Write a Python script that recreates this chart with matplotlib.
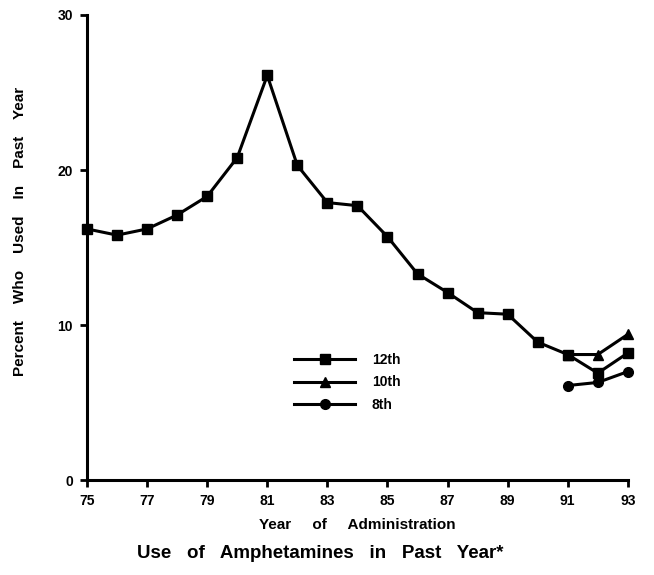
import matplotlib.pyplot as plt

plt.rcParams['font.family'] = ['Liberation Sans', 'DejaVu Sans']
plt.rcParams['font.weight'] = 'bold'

years_12 = [75, 76, 77, 78, 79, 80, 81, 82, 83, 84, 85, 86, 87, 88, 89, 90, 91, 92, 93]
grade_12 = [16.2, 15.8, 16.2, 17.1, 18.3, 20.8, 26.1, 20.3, 17.9, 17.7, 15.7, 13.3, 12.1, 10.8, 10.7, 8.9, 8.1, 6.9, 8.2]
years_lower = [91, 92, 93]
grade_10 = [8.1, 8.1, 9.4]
grade_8 = [6.1, 6.3, 7.0]
xtick_years = [75, 77, 79, 81, 83, 85, 87, 89, 91, 93]

fig = plt.figure(figsize=(6.54, 5.75), dpi=100)
ax = fig.add_axes([0.133, 0.165, 0.827, 0.809])

style = dict(color='black', lw=2.2, ms=7, clip_on=False)
ax.plot(years_12, grade_12, marker='s', label='12th', **style)
ax.plot(years_lower, grade_10, marker='^', label='10th', **style)
ax.plot(years_lower, grade_8, marker='o', label='8th', **style)

ax.set_xlim(75, 93)
ax.set_ylim(0, 30)
ax.set_xticks(xtick_years)
ax.set_yticks([0, 10, 20, 30])
ax.tick_params(direction='out', length=5, width=2, labelsize=10, pad=5)
for s in ['top', 'right']:
    ax.spines[s].set_visible(False)
for s in ['left', 'bottom']:
    ax.spines[s].set_linewidth(2.2)

ax.set_xlabel('Year     of     Administration', fontsize=11, fontweight='bold', labelpad=7)
ax.set_ylabel('Percent    Who    Used    In    Past    Year', fontsize=11, fontweight='bold')
ax.yaxis.set_label_coords(-0.11, 0.535)
fig.text(0.49, 0.03, 'Use   of   Amphetamines   in   Past   Year*', ha='center',
         fontsize=13.5, fontweight='bold')

ax.legend(loc='upper left', bbox_to_anchor=(0.36, 0.30), frameon=False, fontsize=10,
          handlelength=4.4, labelspacing=0.6, handletextpad=1.2)

fig.savefig('out.png', dpi=100)
